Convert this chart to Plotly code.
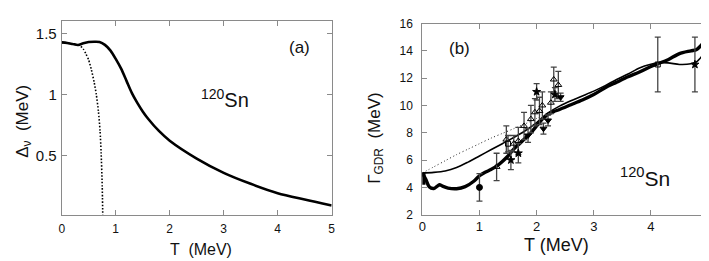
import plotly.graph_objects as go

# ---------------- data: panel (a) ----------------
a_T_solid = [0, 0.1, 0.2, 0.3, 0.4, 0.5, 0.6, 0.7, 0.8, 0.9, 1.0, 1.1, 1.2, 1.3, 1.4, 1.5, 1.6, 1.8, 2.0, 2.5, 3.0, 3.5, 4.0, 4.5, 5.0]
a_D_solid = [1.425, 1.42, 1.412, 1.404, 1.418, 1.428, 1.43, 1.428, 1.405, 1.36, 1.29, 1.21, 1.11, 1.01, 0.93, 0.86, 0.80, 0.70, 0.62, 0.474, 0.357, 0.267, 0.19, 0.138, 0.09]
a_T_dot = [0, 0.1, 0.2, 0.3, 0.35, 0.4, 0.45, 0.5, 0.55, 0.6, 0.64, 0.68, 0.71, 0.73, 0.75, 0.76]
a_D_dot = [1.425, 1.42, 1.412, 1.404, 1.395, 1.37, 1.33, 1.28, 1.2, 1.1, 1.0, 0.86, 0.70, 0.52, 0.25, 0.01]

# ---------------- data: panel (b) ----------------
b_T_bar = [0.012, 0.012]
b_G_bar = [4.2, 5.1]
b_T_thick = [0, 0.06, 0.12, 0.2, 0.25, 0.3, 0.35, 0.45, 0.6, 0.75, 0.9, 1.0, 1.1, 1.2, 1.3, 1.4, 1.5, 1.6, 1.7, 1.8,
             1.9, 2.0, 2.1, 2.2, 2.3, 2.4, 2.6, 2.8, 3.0, 3.2, 3.4, 3.6, 3.8, 4.0, 4.12, 4.3, 4.5, 4.7, 4.8, 4.9, 4.95, 5.0]
b_G_thick = [5.05, 4.6, 4.05, 3.92, 4.05, 4.2, 4.1, 3.95, 3.9, 4.05, 4.45, 4.85, 5.1, 5.3, 5.55, 5.9, 6.3, 6.8, 7.2, 7.6,
             8.0, 8.5, 9.0, 9.35, 9.55, 9.7, 10.05, 10.4, 10.8, 11.3, 11.7, 12.1, 12.45, 12.85, 13.05, 13.35, 13.8, 14.0, 14.1, 14.5, 14.75, 15.05]
b_T_thin = [0, 0.2, 0.4, 0.6, 0.8, 1.0, 1.2, 1.4, 1.6, 1.8, 2.0, 2.2, 2.4, 2.6, 2.8, 3.0, 3.2, 3.4, 3.6, 3.8, 4.0, 4.12, 4.3, 4.5, 4.7, 4.8, 4.9]
b_G_thin = [5.05, 5.1, 5.2, 5.45, 5.85, 6.3, 6.75, 7.2, 7.65, 8.15, 8.75, 9.45, 9.95, 10.35, 10.7, 11.05, 11.45, 11.9, 12.3, 12.75, 13.02, 13.12, 13.12, 13.0, 13.05, 13.2, 13.65]
b_T_dot = [0, 0.2, 0.4, 0.6, 0.8, 1.0, 1.2, 1.4, 1.6, 1.8, 2.0, 2.2]
b_G_dot = [5.05, 5.5, 5.95, 6.4, 6.8, 7.2, 7.6, 7.95, 8.3, 8.65, 9.05, 9.45]

# experimental points
circ_T = [1.0]
circ_G = [4.0]
circ_E = [1.0]
tri_T = [1.3, 1.47, 1.6, 1.68, 1.78, 1.9, 1.97, 2.05, 2.1, 2.25, 2.3, 2.38]
tri_G = [5.5, 7.5, 7.2, 7.4, 8.5, 9.0, 9.5, 9.6, 10.0, 10.2, 11.9, 11.5]
tri_E = [1.0, 1.0, 0.6, 1.0, 1.0, 1.0, 1.0, 1.0, 1.0, 0.8, 0.9, 1.0]
star_T = [1.55, 1.68, 2.0, 2.32, 4.77]
star_G = [6.0, 6.5, 11.0, 10.8, 13.0]
star_E = [0.7, 0.7, 0.6, 0.5, 2.0]
sq_T = [1.5, 4.12]
sq_G = [7.2, 13.0]
sq_E = [0.6, 2.0]
dtri_T = [1.85, 2.12, 2.2, 2.42]
dtri_G = [7.8, 8.3, 8.9, 10.6]
dtri_E = [0.5, 0.4, 0.4, 0.3]

W, H = 709, 261
FONT = "Liberation Sans, Arial, sans-serif"

fig = go.Figure()

# panel a
fig.add_trace(go.Scatter(x=a_T_dot, y=a_D_dot, mode="lines", line=dict(color="black", width=1.6, dash="1.5px,1.8px", shape="spline", smoothing=0.6),
                         xaxis="x", yaxis="y", showlegend=False))
fig.add_trace(go.Scatter(x=a_T_solid, y=a_D_solid, mode="lines", line=dict(color="black", width=2.6, shape="spline", smoothing=0.8),
                         xaxis="x", yaxis="y", showlegend=False))

# panel b curves
fig.add_trace(go.Scatter(x=b_T_dot, y=b_G_dot, mode="lines", line=dict(color="#222", width=1.0, dash="1px,2.5px", shape="spline", smoothing=0.8),
                         xaxis="x2", yaxis="y2", showlegend=False))
fig.add_trace(go.Scatter(x=b_T_thin, y=b_G_thin, mode="lines", line=dict(color="black", width=1.6, shape="spline", smoothing=0.8),
                         xaxis="x2", yaxis="y2", showlegend=False))
fig.add_trace(go.Scatter(x=b_T_thick, y=b_G_thick, mode="lines", line=dict(color="black", width=3.4, shape="spline", smoothing=0.8),
                         xaxis="x2", yaxis="y2", showlegend=False))
fig.add_trace(go.Scatter(x=b_T_bar, y=b_G_bar, mode="lines", line=dict(color="black", width=5),
                         xaxis="x2", yaxis="y2", showlegend=False))

def pts(T, G, E, symbol, size=5):
    fig.add_trace(go.Scatter(
        x=T, y=G, mode="markers",
        marker=dict(symbol=symbol, size=size, color="black", line=dict(color="black", width=1)),
        error_y=dict(type="data", array=E, visible=True, color="#444", thickness=1.3, width=3),
        xaxis="x2", yaxis="y2", showlegend=False))

pts(circ_T, circ_G, circ_E, "circle", 6)
pts(tri_T, tri_G, tri_E, "triangle-up-open", 6)
pts(star_T, star_G, star_E, "star", 6)
pts(sq_T, sq_G, sq_E, "square-open", 5)
pts(dtri_T, dtri_G, dtri_E, "triangle-down", 6)

axcol = "#8a8a8a"
common = dict(showline=True, linecolor=axcol, linewidth=1, mirror="ticks", ticks="inside", ticklen=5,
              tickcolor=axcol, showgrid=False, zeroline=False)

fig.update_layout(
    width=W, height=H, margin=dict(l=0, r=0, t=0, b=0),
    paper_bgcolor="white", plot_bgcolor="white",
    font=dict(family=FONT, color="#111"),
    xaxis=dict(domain=[50.3 / W, 323.3 / W], range=[0, 5], tickvals=[0, 1, 2, 3, 4, 5],
               tickfont=dict(size=12), anchor="y", ticklabelstandoff=3, **common),
    yaxis=dict(domain=[1 - 211.3 / H, 1 - 6 / H], range=[0.012, 1.603], tickvals=[0.5, 1, 1.5],
               ticktext=["0.5", "1", "1.5"], tickfont=dict(size=15), anchor="x", ticklabelstandoff=1, **common),
    xaxis2=dict(domain=[415 / W, 704 / W], range=[0, 5], tickvals=[0, 1, 2, 3, 4, 5],
                tickfont=dict(size=13), anchor="y2", ticklabelstandoff=0, **common),
    yaxis2=dict(domain=[1 - 211 / H, 1 - 9 / H], range=[2, 16], tickvals=[2, 4, 6, 8, 10, 12, 14, 16],
                tickfont=dict(size=12), anchor="x2", ticklabelstandoff=6, **common),
)

ann = [
    dict(text="T  (MeV)", x=191.5 / W, y=1 - 248 / H, font=dict(size=16)),
    dict(text="T (MeV)", x=550.5 / W, y=1 - 243 / H, font=dict(size=18)),
    dict(text="Δ<sub>ν</sub>  (MeV)", x=12 / W, y=1 - 112 / H, font=dict(size=17), textangle=-90),
    dict(text="Γ<sub>GDR</sub>  (MeV)", x=368 / W, y=1 - 130 / H, font=dict(size=17), textangle=-90),
    dict(text="(a)", x=291 / W, y=1 - 34 / H, font=dict(size=17)),
    dict(text="(b)", x=452.5 / W, y=1 - 35 / H, font=dict(size=17)),
    dict(text="<sup>120</sup>Sn", x=215.5 / W, y=1 - 88 / H, font=dict(size=20)),
    dict(text="<sup>120</sup>Sn", x=640 / W, y=1 - 171 / H, font=dict(size=21)),
]
for a in ann:
    a.update(xref="paper", yref="paper", showarrow=False, xanchor="center", yanchor="middle")
fig.update_layout(annotations=ann)

fig.write_html("out.html")
